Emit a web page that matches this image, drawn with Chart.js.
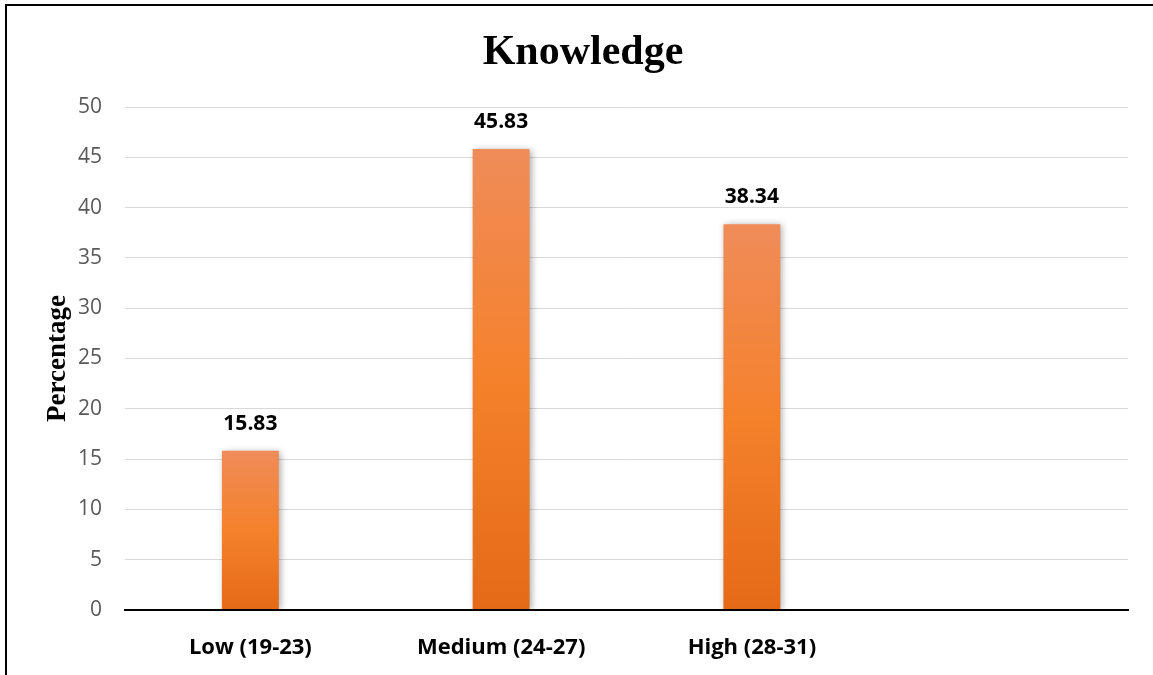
<!DOCTYPE html>
<html>
<head>
<meta charset="utf-8">
<script src="https://cdn.jsdelivr.net/npm/chart.js@4.4.1/dist/chart.umd.min.js"></script>
<style>
  html, body { margin: 0; padding: 0; background: #fff; }
  #wrap { position: relative; width: 1153px; height: 675px; }
</style>
</head>
<body>
<div id="wrap"><canvas id="c" width="1153" height="675"></canvas></div>
<script>
// Knowledge score groups and share of respondents (%)
const categories = ["Low (19-23)", "Medium (24-27)", "High (28-31)", ""];
const percentages = [15.83, 45.83, 38.34, null];
const valueLabels = ["15.83", "45.83", "38.34", ""];
const yTicks = [0, 5, 10, 15, 20, 25, 30, 35, 40, 45, 50];
const chartTitle = "Knowledge";

const labelFont = '"Open Sans", "Liberation Sans", sans-serif';
const serifFont = '"Liberation Serif", "Times New Roman", serif';

// Vertical gradient for each bar: lighter at the top, deeper orange at the base
function barFill(context) {
  const chart = context.chart;
  const y = chart.scales && chart.scales.y;
  if (!chart.chartArea || !y) return '#F47F2A';
  const v = context.raw;
  if (v == null) return '#F47F2A';
  const top = y.getPixelForValue(v);
  const base = y.getPixelForValue(0);
  const g = chart.ctx.createLinearGradient(0, top, 0, base);
  g.addColorStop(0, '#EF8C59');
  g.addColorStop(0.5, '#F5812B');
  g.addColorStop(1, '#E46A17');
  return g;
}

// Frame lines along the left and top edges, plus the heading
const framePlugin = {
  id: 'frame',
  afterDraw(chart) {
    const ctx = chart.ctx;
    ctx.save();
    ctx.fillStyle = '#000';
    ctx.fillRect(5, 4, 2, 671);
    ctx.fillRect(5, 4, 1148, 2);
    ctx.font = 'bold 42px ' + serifFont;
    ctx.textAlign = 'center';
    ctx.textBaseline = 'alphabetic';
    ctx.fillText(chartTitle, 583, 64);
    ctx.restore();
  }
};

// Soft drop shadow behind the bars
const shadowPlugin = {
  id: 'barShadow',
  beforeDatasetDraw(chart) {
    const ctx = chart.ctx;
    ctx.save();
    ctx.shadowColor = 'rgba(0,0,0,0.35)';
    ctx.shadowBlur = 7;
    ctx.shadowOffsetX = 2;
    ctx.shadowOffsetY = 1;
  },
  afterDatasetDraw(chart) {
    chart.ctx.restore();
  }
};

// Value labels above each bar
const valueLabelPlugin = {
  id: 'valueLabels',
  afterDatasetsDraw(chart) {
    const ctx = chart.ctx;
    const meta = chart.getDatasetMeta(0);
    ctx.save();
    ctx.font = 'bold 21px ' + labelFont;
    ctx.fillStyle = '#000';
    ctx.textAlign = 'center';
    ctx.textBaseline = 'middle';
    meta.data.forEach((bar, i) => {
      if (percentages[i] == null) return;
      ctx.fillText(valueLabels[i], bar.x, bar.y - 27);
    });
    ctx.restore();
  }
};

new Chart(document.getElementById('c'), {
  type: 'bar',
  data: {
    labels: categories,
    datasets: [{
      data: percentages,
      backgroundColor: barFill,
      borderWidth: 0,
      categoryPercentage: 1,
      barPercentage: 0.227
    }]
  },
  options: {
    responsive: false,
    animation: false,
    layout: { padding: { left: 0, right: 25, top: 107, bottom: 0 } },
    plugins: {
      legend: { display: false },
      tooltip: { enabled: false },
      title: { display: false }
    },
    scales: {
      x: {
        grid: { display: false },
        border: { display: true, color: '#000', width: 2 },
        ticks: {
          color: '#000',
          font: { family: labelFont, size: 22, weight: 'bold' },
          padding: 17,
          maxRotation: 0
        },
        afterFit(scale) { scale.height = 65; }
      },
      y: {
        min: 0,
        max: 50,
        afterBuildTicks(scale) { scale.ticks = yTicks.map(v => ({ value: v })); },
        grid: {
          drawTicks: false,
          color: ctx => (ctx.tick && ctx.tick.value === 0) ? '#000' : '#D9D9D9',
          lineWidth: ctx => (ctx.tick && ctx.tick.value === 0) ? 2 : 1
        },
        border: { display: false },
        ticks: {
          color: '#595959',
          font: { family: labelFont, size: 21 },
          padding: 23
        },
        title: {
          display: true,
          text: 'Percentage',
          color: '#000',
          font: { family: serifFont, size: 27, weight: 'bold' },
          padding: { top: 42, bottom: 0 }
        },
        afterFit(scale) { scale.width = 125; }
      }
    }
  },
  plugins: [framePlugin, shadowPlugin, valueLabelPlugin]
});
</script>
</body>
</html>
